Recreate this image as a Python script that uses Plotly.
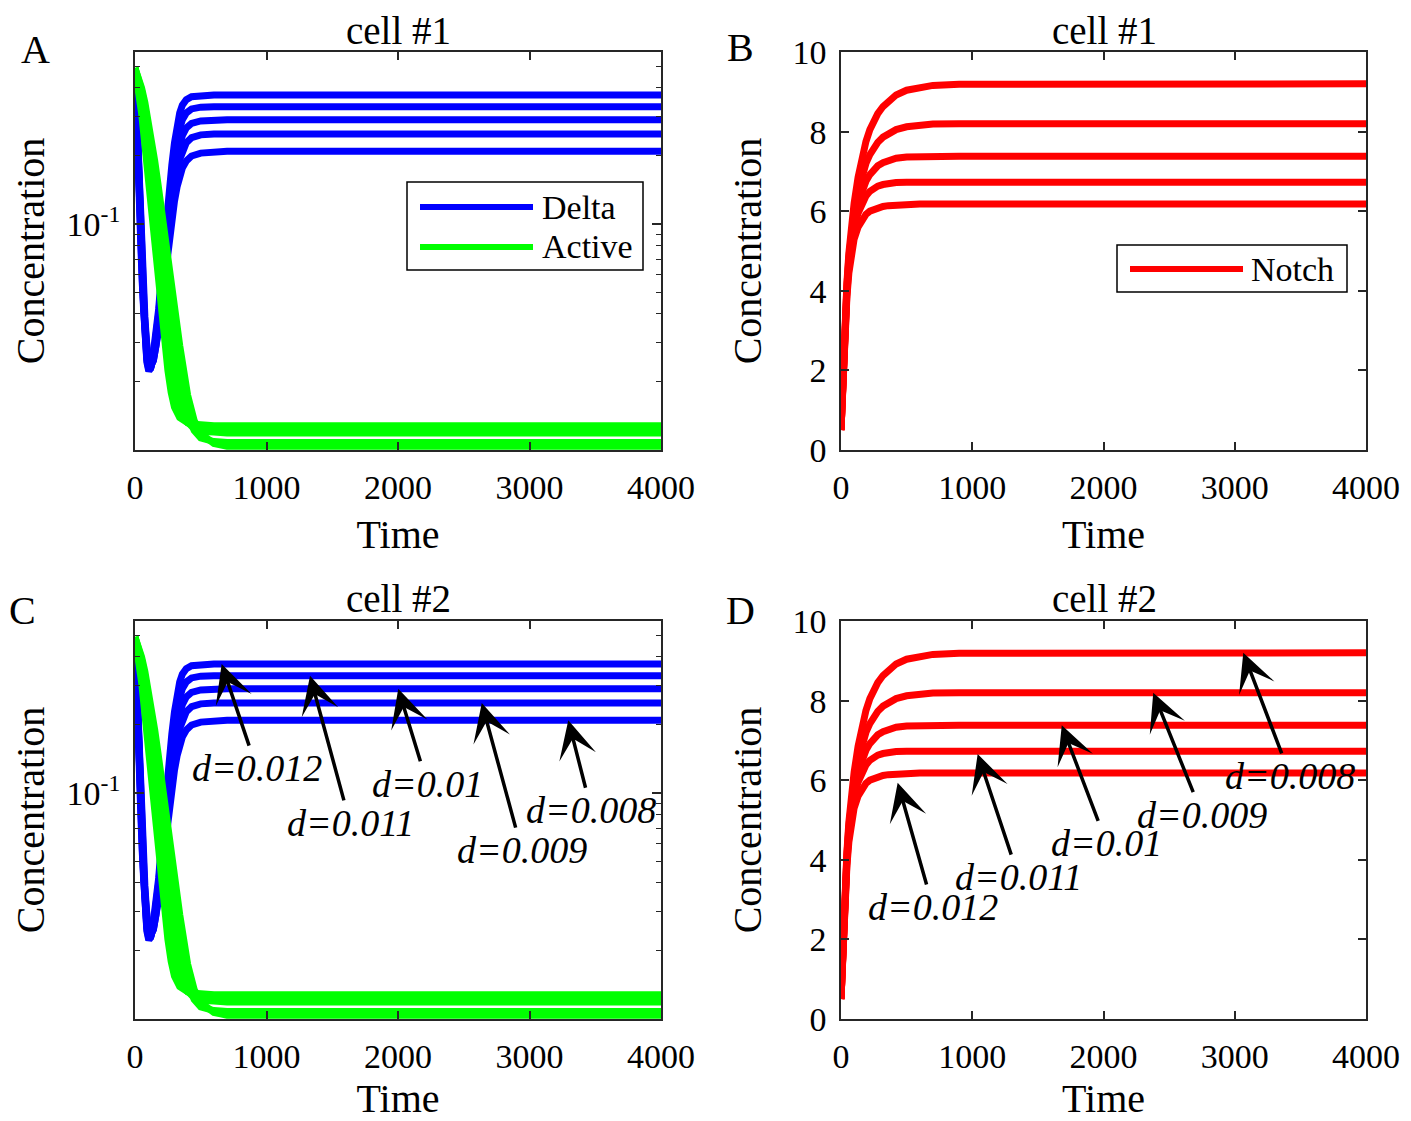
import numpy as np
import plotly.graph_objects as go

# The page places the figure 8 px in from the top-left corner (body margin),
# so the figure is 8 px smaller and all reference pixel positions are shifted by 8.
OFF = 8
W, H = 1411 - OFF, 1121 - OFF
FONT = "Liberation Serif"
AX_COLOR = "#262626"

# ---------------- data ----------------
D_LABELS = ["d=0.012", "d=0.011", "d=0.01", "d=0.009", "d=0.008"]

# Delta (log scale), time grid
T_DELTA = [0, 8, 15, 25, 35, 45, 55, 65, 75, 90, 105, 120, 140, 160, 180, 200, 220, 240,
           260, 280, 300, 320, 340, 360, 390, 430, 500, 600, 700, 4000]
DELTA_D012 = [0.49, 0.32, 0.22, 0.15, 0.108, 0.078, 0.055, 0.039, 0.030, 0.0245, 0.0223, 0.0232,
              0.027, 0.032, 0.042, 0.058, 0.080, 0.108, 0.142, 0.182, 0.228, 0.272, 0.310, 0.336,
              0.355, 0.366, 0.371, 0.372, 0.372, 0.372]
DELTA_D011 = [0.49, 0.33, 0.23, 0.16, 0.115, 0.083, 0.059, 0.042, 0.032, 0.0252, 0.0227, 0.0231,
              0.026, 0.031, 0.040, 0.054, 0.073, 0.097, 0.126, 0.160, 0.197, 0.233, 0.264, 0.289,
              0.310, 0.323, 0.329, 0.330, 0.330, 0.330]
DELTA_D010 = [0.49, 0.34, 0.24, 0.168, 0.122, 0.088, 0.063, 0.045, 0.034, 0.026, 0.0232, 0.0232,
              0.0255, 0.030, 0.038, 0.050, 0.066, 0.087, 0.112, 0.140, 0.170, 0.199, 0.225, 0.246,
              0.266, 0.279, 0.286, 0.289, 0.289, 0.289]
DELTA_D009 = [0.49, 0.35, 0.25, 0.177, 0.13, 0.095, 0.068, 0.049, 0.036, 0.0272, 0.0237, 0.0234,
              0.025, 0.029, 0.036, 0.046, 0.060, 0.078, 0.099, 0.122, 0.147, 0.171, 0.193, 0.211,
              0.229, 0.241, 0.248, 0.250, 0.250, 0.250]
DELTA_D008 = [0.49, 0.36, 0.26, 0.186, 0.138, 0.102, 0.074, 0.053, 0.039, 0.0285, 0.0242, 0.0237,
              0.0248, 0.028, 0.034, 0.043, 0.055, 0.070, 0.087, 0.106, 0.126, 0.146, 0.163, 0.177,
              0.190, 0.200, 0.206, 0.209, 0.210, 0.210]
DELTA_SERIES = [DELTA_D012, DELTA_D011, DELTA_D010, DELTA_D009, DELTA_D008]

# Active (log scale)
T_ACTIVE = [0, 25, 50, 75, 100, 125, 150, 175, 200, 225, 250, 275, 300, 340, 400, 450, 500,
            600, 700, 4000]
ACTIVE_D012 = [0.49, 0.40, 0.31, 0.225, 0.160, 0.113, 0.080, 0.057, 0.041, 0.030, 0.0225, 0.0180,
               0.0155, 0.0139, 0.0132, 0.0130, 0.0129, 0.0128, 0.0128, 0.0128]
ACTIVE_D011 = [0.49, 0.415, 0.335, 0.26, 0.20, 0.152, 0.112, 0.078, 0.057, 0.042, 0.031, 0.0228,
               0.0183, 0.0148, 0.0132, 0.0127, 0.0125, 0.0124, 0.0124, 0.0124]
ACTIVE_D010 = [0.49, 0.425, 0.355, 0.29, 0.23, 0.18, 0.138, 0.103, 0.074, 0.055, 0.041, 0.031,
               0.0235, 0.0168, 0.0133, 0.0124, 0.0121, 0.0120, 0.0119, 0.0119]
ACTIVE_D009 = [0.49, 0.44, 0.39, 0.33, 0.27, 0.215, 0.17, 0.132, 0.100, 0.074, 0.056, 0.043,
               0.033, 0.0225, 0.0148, 0.0122, 0.0113, 0.0109, 0.0108, 0.0108]
ACTIVE_D008 = [0.49, 0.45, 0.40, 0.345, 0.29, 0.235, 0.19, 0.15, 0.116, 0.090, 0.070, 0.0547,
               0.0428, 0.029, 0.0175, 0.0135, 0.0118, 0.0107, 0.0104, 0.0104]
ACTIVE_SERIES = [ACTIVE_D012, ACTIVE_D011, ACTIVE_D010, ACTIVE_D009, ACTIVE_D008]

# Notch (linear scale)
T_NOTCH = [0, 10, 20, 30, 45, 60, 75, 100, 130, 160, 190, 220, 250, 280, 320, 360, 420, 500,
           600, 700, 900, 4000]
NOTCH_D012 = [0.5, 1.45, 2.3, 3.0, 3.85, 4.45, 4.85, 5.3, 5.6, 5.8, 5.92, 6.0, 6.05, 6.09, 6.12,
              6.14, 6.16, 6.17, 6.18, 6.18, 6.18, 6.18]
NOTCH_D011 = [0.5, 1.46, 2.32, 3.05, 3.95, 4.6, 5.05, 5.55, 5.95, 6.2, 6.38, 6.5, 6.58, 6.63, 6.67,
              6.7, 6.72, 6.73, 6.73, 6.73, 6.73, 6.73]
NOTCH_D010 = [0.5, 1.48, 2.35, 3.1, 4.05, 4.75, 5.2, 5.75, 6.2, 6.52, 6.75, 6.92, 7.05, 7.14, 7.22,
              7.28, 7.33, 7.36, 7.37, 7.38, 7.38, 7.38]
NOTCH_D009 = [0.5, 1.5, 2.38, 3.15, 4.12, 4.85, 5.35, 5.95, 6.5, 6.9, 7.2, 7.42, 7.6, 7.73, 7.86,
              7.95, 8.05, 8.12, 8.17, 8.19, 8.2, 8.2]
NOTCH_D008 = [0.5, 1.5, 2.4, 3.2, 4.2, 4.95, 5.5, 6.2, 6.85, 7.35, 7.75, 8.05, 8.28, 8.45, 8.63,
              8.77, 8.92, 9.04, 9.12, 9.16, 9.19, 9.2]
NOTCH_SERIES = [NOTCH_D012, NOTCH_D011, NOTCH_D010, NOTCH_D009, NOTCH_D008]

X_TICKS = [0, 1000, 2000, 3000, 4000]
LOG_MAJOR = [0.1]
LOG_MAJOR_TEXT = ["10<sup>-1</sup>"]
LOG_MINOR = [0.02, 0.03, 0.04, 0.05, 0.06, 0.07, 0.08, 0.09, 0.2, 0.3, 0.4, 0.5]
NOTCH_TICKS = [0, 2, 4, 6, 8, 10]

BLUE, GREEN, RED = "#0000FF", "#00FF00", "#FF0000"
LW = 7

# ---------------- layout helpers (reference pixel -> paper) ----------------
def px_x(p):
    return (p - OFF) / W

def px_y(p):
    return 1 - (p - OFF) / H

DOM_X_L = [px_x(135), px_x(661)]
DOM_X_R = [px_x(841), px_x(1366)]
DOM_Y_T = [px_y(450), px_y(52)]
DOM_Y_B = [px_y(1019), px_y(621)]

fig = go.Figure()

def add_lines(xa, ya, t, series, color):
    for s in series:
        fig.add_trace(go.Scatter(x=t, y=s, mode="lines", xaxis=xa, yaxis=ya,
                                 line=dict(color=color, width=LW), showlegend=False,
                                 hoverinfo="skip"))

# A and C: Delta then Active
for xa, ya in [("x", "y"), ("x3", "y3")]:
    add_lines(xa, ya, T_DELTA, DELTA_SERIES, BLUE)
    add_lines(xa, ya, T_ACTIVE, ACTIVE_SERIES, GREEN)
# B and D: Notch
for xa, ya in [("x2", "y2"), ("x4", "y4")]:
    add_lines(xa, ya, T_NOTCH, NOTCH_SERIES, RED)

tickfont = dict(family=FONT, size=34, color="black")
titlefont = dict(family=FONT, size=40, color="black")

def xaxis_cfg(domain, anchor):
    return dict(domain=domain, anchor=anchor, range=[0, 4000], tickvals=X_TICKS,
                ticks="inside", ticklen=8, tickwidth=1.5, tickcolor=AX_COLOR,
                showline=True, linecolor=AX_COLOR, linewidth=1.5, mirror="ticks",
                showgrid=False, zeroline=False, tickfont=tickfont,
                ticklabelstandoff=6,
                title=dict(text="Time", font=titlefont, standoff=15))

def ylog_cfg(domain, anchor):
    return dict(domain=domain, anchor=anchor, type="log",
                range=[-2, np.log10(0.577)], tickvals=LOG_MAJOR, ticktext=LOG_MAJOR_TEXT,
                ticks="inside", ticklen=9, tickwidth=1.5, tickcolor=AX_COLOR,
                minor=dict(tickvals=LOG_MINOR, ticks="inside", ticklen=5, tickwidth=1.2,
                           tickcolor=AX_COLOR, showgrid=False),
                showline=True, linecolor=AX_COLOR, linewidth=1.5, mirror="ticks",
                showgrid=False, zeroline=False, tickfont=tickfont, ticklabelstandoff=6,
                title=dict(text="Concentration", font=titlefont, standoff=16))

def ylin_cfg(domain, anchor):
    return dict(domain=domain, anchor=anchor, range=[0, 10], tickvals=NOTCH_TICKS,
                ticks="inside", ticklen=8, tickwidth=1.5, tickcolor=AX_COLOR,
                showline=True, linecolor=AX_COLOR, linewidth=1.5, mirror="ticks",
                showgrid=False, zeroline=False, tickfont=tickfont, ticklabelstandoff=6,
                title=dict(text="Concentration", font=titlefont, standoff=18))

fig.update_layout(
    width=W, height=H, margin=dict(l=0, r=0, t=0, b=0, autoexpand=False),
    paper_bgcolor="white", plot_bgcolor="white", showlegend=False,
    font=dict(family=FONT, color="black"),
    xaxis=xaxis_cfg(DOM_X_L, "y"), yaxis=ylog_cfg(DOM_Y_T, "x"),
    xaxis2=xaxis_cfg(DOM_X_R, "y2"), yaxis2=ylin_cfg(DOM_Y_T, "x2"),
    xaxis3=xaxis_cfg(DOM_X_L, "y3"), yaxis3=ylog_cfg(DOM_Y_B, "x3"),
    xaxis4=xaxis_cfg(DOM_X_R, "y4"), yaxis4=ylin_cfg(DOM_Y_B, "x4"),
)

annotations = []
shapes = []

# panel titles and letters
for txt, cx, cy in [("cell #1", 398, 30), ("cell #1", 1104, 30),
                    ("cell #2", 398, 598), ("cell #2", 1104, 598)]:
    annotations.append(dict(text=txt, x=px_x(cx), y=px_y(cy), xref="paper", yref="paper",
                            showarrow=False, font=dict(family=FONT, size=39, color="black"),
                            xanchor="center", yanchor="middle"))
for txt, cx, cy in [("A", 35, 50), ("B", 740, 47), ("C", 22, 610), ("D", 740, 610)]:
    annotations.append(dict(text=txt, x=px_x(cx), y=px_y(cy), xref="paper", yref="paper",
                            showarrow=False, font=dict(family=FONT, size=40, color="black"),
                            xanchor="center", yanchor="middle"))

# custom legends (long line samples)
def legend_box(x0, y0, x1, y1, items):
    shapes.append(dict(type="rect", xref="paper", yref="paper", x0=px_x(x0), x1=px_x(x1),
                       y0=px_y(y1), y1=px_y(y0), line=dict(color="black", width=1.5),
                       fillcolor="white", layer="above"))
    for name, color, ly, lx0, lx1, tx in items:
        shapes.append(dict(type="line", xref="paper", yref="paper", x0=px_x(lx0), x1=px_x(lx1),
                           y0=px_y(ly), y1=px_y(ly), line=dict(color=color, width=6),
                           layer="above"))
        annotations.append(dict(text=name, x=px_x(tx), y=px_y(ly), xref="paper", yref="paper",
                                showarrow=False, xanchor="left", yanchor="middle",
                                font=dict(family=FONT, size=34, color="black")))

legend_box(407, 182, 643, 270, [("Delta", BLUE, 207, 420, 533, 540),
                                ("Active", GREEN, 247, 420, 533, 540)])
legend_box(1117, 245, 1347, 292, [("Notch", RED, 269, 1130, 1243, 1249)])

# arrows with d labels, panel C (tips on Delta plateaus)
C_TIPS_T = [659, 1331, 2002, 2637, 3295]
C_OFFS = [(35, 104), (40, 147), (29, 95), (40, 147), (23, 90)]
for lab, s, tt, (ax, ay) in zip(D_LABELS, DELTA_SERIES, C_TIPS_T, C_OFFS):
    annotations.append(dict(text="<i>" + lab + "</i>", x=tt, y=np.log10(s[-1]),
                            xref="x3", yref="y3", showarrow=True, ax=ax, ay=ay,
                            arrowhead=3, arrowsize=1.8, arrowwidth=3.5, arrowcolor="black",
                            font=dict(family=FONT, size=38, color="black")))

# arrows with d labels, panel D (tips on Notch plateaus)
D_TIPS_T = [411, 1034, 1682, 2379, 3065]
D_OFFS = [(38, 134), (42, 126), (45, 118), (49, 122), (47, 123)]
D_STANDOFF = [10, 3, 0, 0, 0]
for lab, s, tt, (ax, ay), so in zip(D_LABELS, NOTCH_SERIES, D_TIPS_T, D_OFFS, D_STANDOFF):
    annotations.append(dict(text="<i>" + lab + "</i>", x=tt, y=s[-1],
                            xref="x4", yref="y4", showarrow=True, ax=ax, ay=ay, standoff=so,
                            arrowhead=3, arrowsize=1.8, arrowwidth=3.5, arrowcolor="black",
                            font=dict(family=FONT, size=38, color="black")))

fig.update_layout(annotations=annotations, shapes=shapes)
fig.write_html("out.html")
